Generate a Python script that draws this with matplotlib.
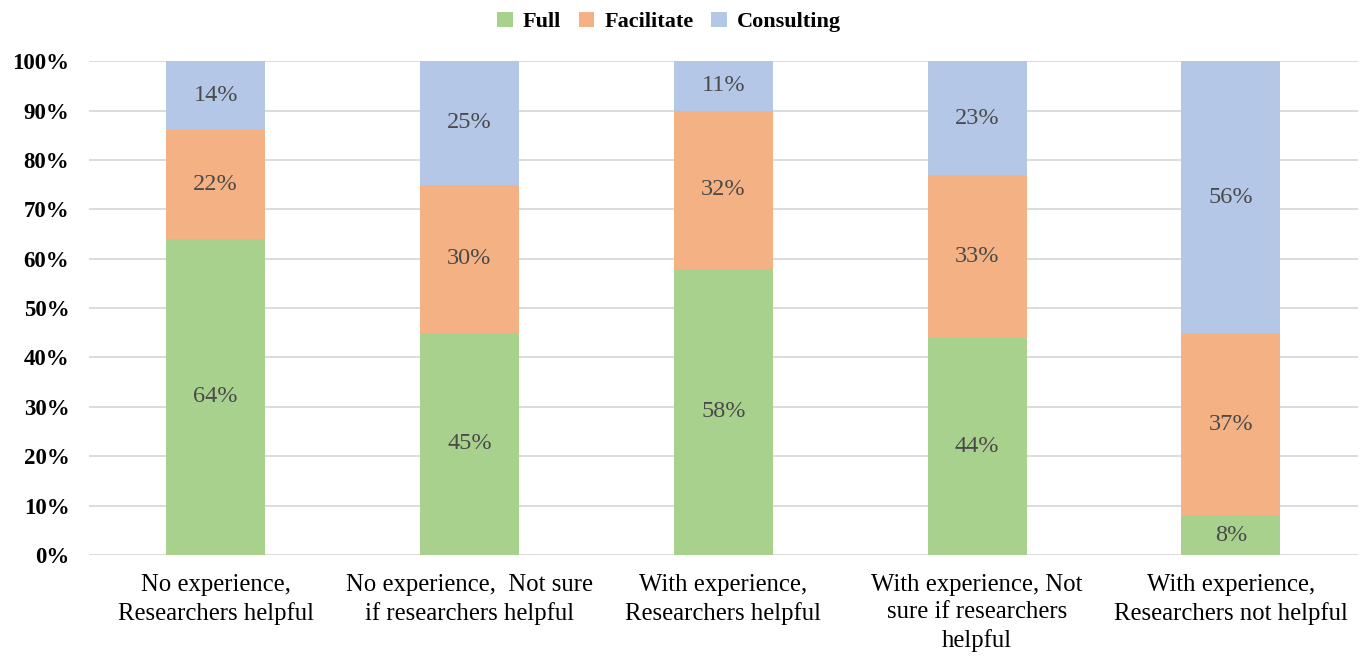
import numpy as np
import matplotlib
matplotlib.use("Agg")
import matplotlib.pyplot as plt
from matplotlib.ticker import PercentFormatter

categories = ["No experience,\nResearchers helpful",
              "No experience,  Not sure\nif researchers helpful",
              "With experience,\nResearchers helpful",
              "With experience, Not\nsure if researchers\nhelpful",
              "With experience,\nResearchers not helpful"]
full = [64, 45, 58, 44, 8]
facilitate = [22, 30, 32, 33, 37]
consulting = [14, 25, 11, 23, 56]

series = [("Full", full, "#A9D18E"),
          ("Facilitate", facilitate, "#F4B183"),
          ("Consulting", consulting, "#B4C7E7")]

plt.rcParams["font.family"] = ["Liberation Serif", "DejaVu Serif"]

fig = plt.figure(figsize=(13.66, 6.59), dpi=100)
ax = fig.add_axes([0.065, 0.158, 0.929, 0.749])

x = np.arange(len(categories))
bottom = np.zeros(len(categories))
for name, vals, col in series:
    v = np.array(vals, dtype=float)
    bars = ax.bar(x, v, 0.39, bottom=bottom, color=col, label=name, zorder=2)
    for xi, b, h in zip(x, bottom, v):
        yc = min(b + h / 2, (b + 100) / 2)
        ax.text(xi, yc, f"{int(h)}%", ha="center", va="center",
                fontsize=17.5, color="#4a4a4a", zorder=3)
    bottom += v

ax.set_xlim(-0.5, 4.5)
ax.set_ylim(0, 100)
ax.set_yticks(np.arange(0, 101, 10))
ax.yaxis.set_major_formatter(PercentFormatter(decimals=0))
ax.grid(axis="y", color="#D9D9D9", linewidth=1.3, zorder=0)
for s in ["top", "right", "left", "bottom"]:
    ax.spines[s].set_visible(False)
ax.tick_params(axis="both", length=0)
ax.tick_params(axis="y", labelsize=16.5, pad=14)
for t in ax.get_yticklabels():
    t.set_fontweight("bold")
ax.set_xticks(x)
ax.set_xticklabels(categories, fontsize=17.8, linespacing=1.3)
ax.tick_params(axis="x", pad=14)

leg = fig.legend(loc="center", bbox_to_anchor=(0.5 - 14 / 1366, 1 - 22 / 659), ncol=3,
                 frameon=False, prop={"weight": "bold", "size": 16},
                 handlelength=0.7, handleheight=0.7, handletextpad=0.45,
                 columnspacing=0.8, borderpad=0)

fig.savefig("out.png", dpi=100)
